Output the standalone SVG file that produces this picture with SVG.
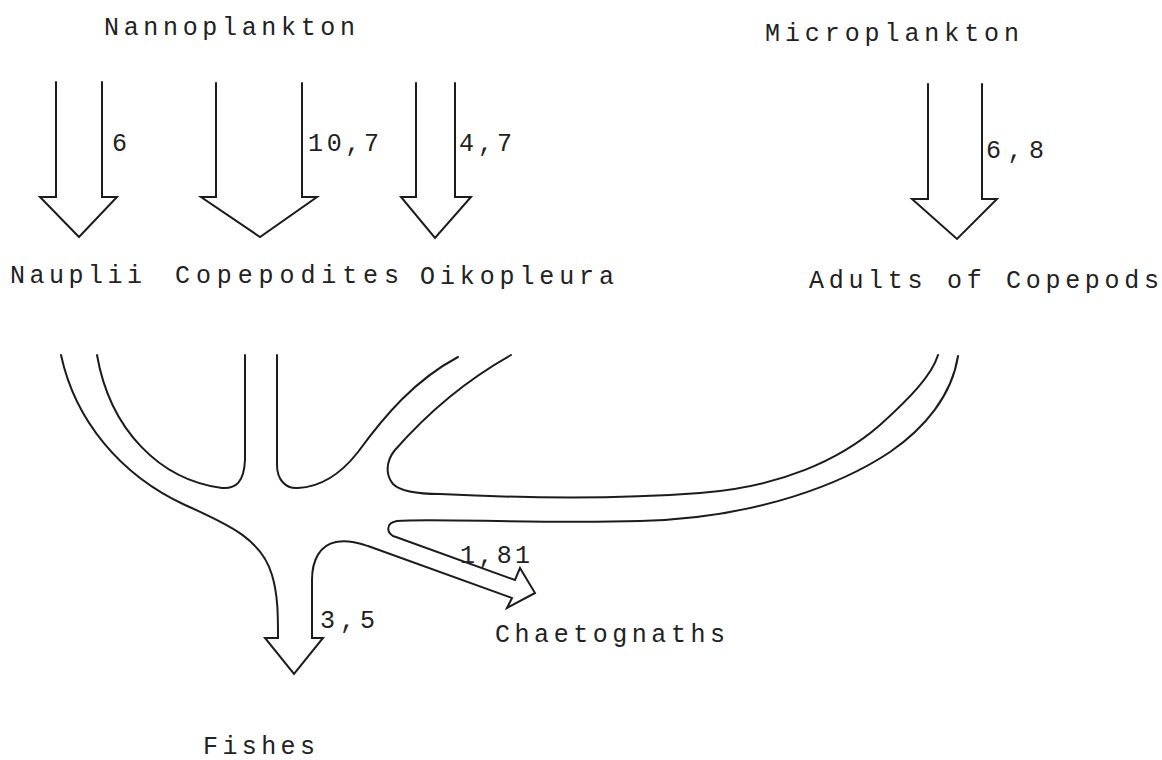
<svg xmlns="http://www.w3.org/2000/svg" width="1162" height="760" viewBox="0 0 1162 760">
<style>
.bg{fill:#ffffff}
.ln{fill:none;stroke:#1c1c1c;stroke-width:2;stroke-linejoin:miter;stroke-linecap:round}
.t{font-family:"Liberation Mono","DejaVu Sans Mono",monospace;font-size:25px;fill:#222222}
</style>
<rect class="bg" x="0" y="0" width="1162" height="760"/>
<g id="nannoplankton"><text class="t" x="104" y="35" textLength="251" lengthAdjust="spacing">Nannoplankton</text></g>
<g id="microplankton"><text class="t" x="765" y="41" textLength="254" lengthAdjust="spacing">Microplankton</text></g>
<g id="nauplii"><text class="t" x="10" y="283" textLength="132" lengthAdjust="spacing">Nauplii</text></g>
<g id="copepodites"><text class="t" x="175" y="283" textLength="224" lengthAdjust="spacing">Copepodites</text></g>
<g id="oikopleura"><text class="t" x="420" y="284" textLength="194" lengthAdjust="spacing">Oikopleura</text></g>
<g id="adults"><text class="t" x="809" y="288" textLength="350" lengthAdjust="spacing">Adults of Copepods</text></g>
<g id="chaetognaths"><text class="t" x="495" y="642" textLength="230" lengthAdjust="spacing">Chaetognaths</text></g>
<g id="fishes"><text class="t" x="203" y="754" textLength="112" lengthAdjust="spacing">Fishes</text></g>
<g id="connectors">
<path class="ln" d="M56,82 V197 H40 L79,237 L117,197 H102 V82"/>
<path class="ln" d="M216,83 V197 H201 L260,237 L317,197 H302 V83"/>
<path class="ln" d="M416,83 V197 H401 L435,238 L471,197 H455 V83"/>
<path class="ln" d="M928,84 V199 H912 L957,239 L997,199 H982 V84"/>
<path class="ln" d="M61,355 C75,420 120,475 185,505 C230,525 262,540 272,575 C278,595 278,615 278,638 H265 L294,674 L323,638 H312 V580 C312,560 320,545 336,542 C349,540 358,543 368,546 L512,598 L507,608 L535,593 L520,568 L515,580 L396,537 C386,534 385,523 397,521 C430,518 540,524 640,521 C760,518 845,482 890,452 C925,428 952,395 958,356"/>
<path class="ln" d="M97,355 C110,430 160,480 222,488 C236,489 244,482 245,460 V355"/>
<path class="ln" d="M277,355 V465 C277,480 286,489 298,488 C320,487 340,475 358,452 C385,415 415,380 458,357"/>
<path class="ln" d="M511,355 C470,378 430,410 395,450 C385,462 386,476 393,484 C400,491 415,494 440,494 C520,498 620,499 700,493 C780,487 840,460 880,425 C910,398 932,375 938,355"/>
<text class="t" x="112" y="151">6</text>
<text class="t" x="308" y="151" textLength="71" lengthAdjust="spacing">10,7</text>
<text class="t" x="459" y="151" textLength="53" lengthAdjust="spacing">4,7</text>
<text class="t" x="986" y="158" textLength="58" lengthAdjust="spacing">6,8</text>
<text class="t" x="320" y="628" textLength="55" lengthAdjust="spacing">3,5</text>
<text class="t" x="460" y="563" textLength="70" lengthAdjust="spacing">1,81</text>
</g>
</svg>
